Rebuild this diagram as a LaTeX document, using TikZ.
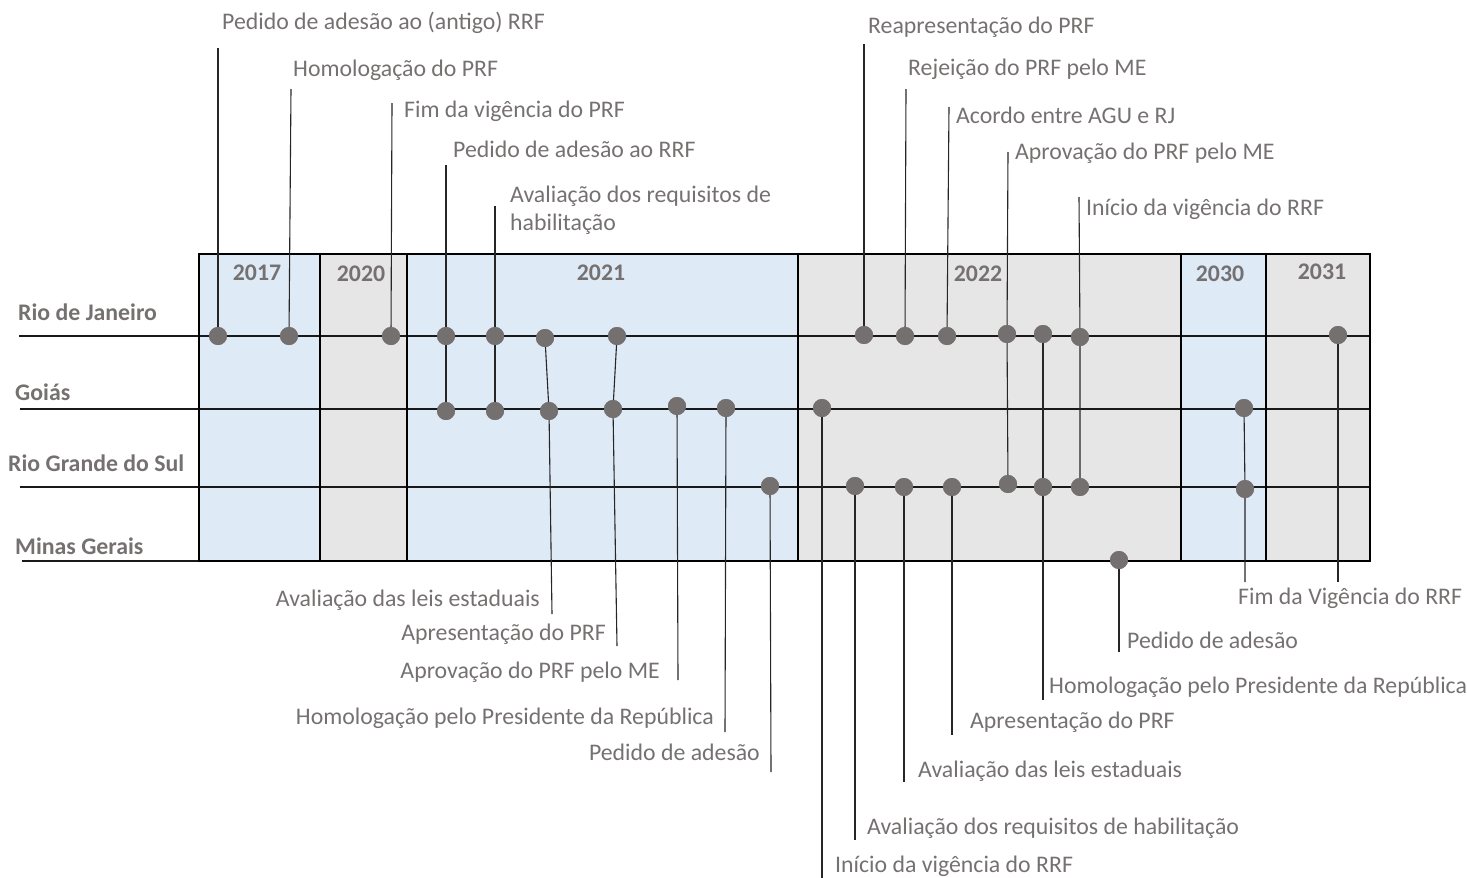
\documentclass[tikz,border=0pt]{standalone}
\usepackage{fontspec}
\setmainfont{Carlito}
\definecolor{txt}{RGB}{118,113,113}
\definecolor{dotc}{RGB}{117,112,112}
\definecolor{blu}{RGB}{222,234,246}
\definecolor{gry}{RGB}{230,230,230}
\tikzset{
  yr/.style={font=\fontsize{23.8}{24}\selectfont\bfseries, text=txt, inner sep=0},
  rowlbl/.style={font=\fontsize{23.8}{24}\selectfont\bfseries, text=txt, anchor=west, inner sep=0},
  lbl/.style={font=\fontsize{23.8}{28}\selectfont, text=txt, inner sep=0},
  lw/.style={lbl, anchor=west},
  le/.style={lbl, anchor=east},
  dot/.style={circle, fill=dotc, minimum size=18pt, inner sep=0},
  conn/.style={line width=1.1pt, draw=black!85},
  rowline/.style={line width=1.3pt, draw=black!90},
  yearbox/.style={draw=black, line width=1.8pt},
}
\begin{document}
\begin{tikzpicture}[x=1pt,y=-1pt]
\useasboundingbox (0,0) rectangle (1467,878);
% year boxes fill
\fill[blu] (199,254) rectangle (320,561);
\fill[gry] (320,254) rectangle (407,561);
\fill[blu] (407,254) rectangle (798,561);
\fill[gry] (798,254) rectangle (1181,561);
\fill[blu] (1181,254) rectangle (1266,561);
\fill[gry] (1266,254) rectangle (1370,561);
% row lines
\coordinate (la) at (19,336);  \coordinate (ra) at (1370,336);
\coordinate (lb) at (20,409);  \coordinate (rb) at (1370,409);
\coordinate (lc) at (20,487);  \coordinate (rc) at (1370,487);
\coordinate (ld) at (22,561);  \coordinate (rd) at (199,561);
\draw[rowline] (la) -- (ra);
\draw[rowline] (lb) -- (rb);
\draw[rowline] (lc) -- (rc);
\draw[rowline] (ld) -- (rd);
% box borders
\draw[yearbox] (199,254) rectangle (320,561);
\draw[yearbox] (320,254) rectangle (407,561);
\draw[yearbox] (407,254) rectangle (798,561);
\draw[yearbox] (798,254) rectangle (1181,561);
\draw[yearbox] (1181,254) rectangle (1266,561);
\draw[yearbox] (1266,254) rectangle (1370,561);
% year labels
\node[yr] (y1) at (257,273) {2017};
\node[yr] (y2) at (361,274) {2020};
\node[yr] (y3) at (601,273) {2021};
\node[yr] (y4) at (978,274) {2022};
\node[yr] (y5) at (1220,274) {2030};
\node[yr] (y6) at (1322,272) {2031};
% row labels
\node[rowlbl] (n1) at (18,312) {Rio de Janeiro};
\node[rowlbl] (n2) at (15,392) {Goiás};
\node[rowlbl] (n3) at (8,463) {Rio Grande do Sul};
\node[rowlbl] (n4) at (15,546) {Minas Gerais};
% dots
\node[dot] (r1) at (218,336) {};
\node[dot] (r2) at (289,336) {};
\node[dot] (r3) at (391,336) {};
\node[dot] (r4) at (446,336) {};
\node[dot] (r5) at (495,336) {};
\node[dot] (r6) at (545,338) {};
\node[dot] (r7) at (617,336) {};
\node[dot] (r8) at (864,335) {};
\node[dot] (r9) at (905,336) {};
\node[dot] (r10) at (947,336) {};
\node[dot] (r11) at (1007,334) {};
\node[dot] (r12) at (1043,334) {};
\node[dot] (r13) at (1080,337) {};
\node[dot] (r14) at (1338,335) {};
\node[dot] (g1) at (446,411) {};
\node[dot] (g2) at (495,411) {};
\node[dot] (g3) at (549,411) {};
\node[dot] (g4) at (613,409) {};
\node[dot] (g5) at (677,406) {};
\node[dot] (g6) at (726,408) {};
\node[dot] (g7) at (822,408) {};
\node[dot] (g8) at (1244,408) {};
\node[dot] (s1) at (770,486) {};
\node[dot] (s2) at (855,486) {};
\node[dot] (s3) at (904,487) {};
\node[dot] (s4) at (952,487) {};
\node[dot] (s5) at (1008,484) {};
\node[dot] (s6) at (1043,487) {};
\node[dot] (s7) at (1080,487) {};
\node[dot] (s8) at (1245,489) {};
\node[dot] (m1) at (1119,560) {};
% connector free ends
\coordinate (t1) at (218,48);
\coordinate (t2) at (291,89);
\coordinate (t3) at (392,103);
\coordinate (t4) at (446,165);
\coordinate (t5) at (495,206);
\coordinate (t8) at (864,44);
\coordinate (t9) at (906,89);
\coordinate (t10) at (949,107);
\coordinate (t11) at (1008,152);
\coordinate (t13) at (1079,197);
\coordinate (b1) at (552,614);
\coordinate (b2) at (617,646);
\coordinate (b3) at (678,680);
\coordinate (b4) at (725,732);
\coordinate (b5) at (771,772);
\coordinate (b6) at (822,878);
\coordinate (b7) at (855,840);
\coordinate (b8) at (904,782);
\coordinate (b9) at (952,735);
\coordinate (b10) at (1043,700);
\coordinate (b11) at (1119,652);
\coordinate (b12) at (1245,582);
\coordinate (b13) at (1338,582);
% connectors
\draw[conn] (t1) -- (r1.center);
\draw[conn] (t2) -- (r2.center);
\draw[conn] (t3) -- (r3.center);
\draw[conn] (t4) -- (r4.center) -- (g1.center);
\draw[conn] (t5) -- (r5.center) -- (g2.center);
\draw[conn] (t8) -- (r8.center);
\draw[conn] (t9) -- (r9.center);
\draw[conn] (t10) -- (r10.center);
\draw[conn] (t11) -- (r11.center) -- (s5.center);
\draw[conn] (t13) -- (r13.center) -- (s7.center);
\draw[conn] (r6.center) -- (g3.center) -- (b1);
\draw[conn] (r7.center) -- (g4.center) -- (b2);
\draw[conn] (g5.center) -- (b3);
\draw[conn] (g6.center) -- (b4);
\draw[conn] (s1.center) -- (b5);
\draw[conn] (g7.center) -- (b6);
\draw[conn] (s2.center) -- (b7);
\draw[conn] (s3.center) -- (b8);
\draw[conn] (s4.center) -- (b9);
\draw[conn] (r12.center) -- (s6.center) -- (b10);
\draw[conn] (m1.center) -- (b11);
\draw[conn] (g8.center) -- (s8.center) -- (b12);
\draw[conn] (r14.center) -- (b13);
% redraw dots on top of connectors
\foreach \d in {r1,r2,r3,r4,r5,r6,r7,r8,r9,r10,r11,r12,r13,r14,g1,g2,g3,g4,g5,g6,g7,g8,s1,s2,s3,s4,s5,s6,s7,s8,m1}
  \fill[dotc] (\d.center) circle (9);
% top labels
\node[lw] (a1) at (222,23) {Pedido de adesão ao (antigo) RRF};
\node[lw] (a2) at (293,70) {Homologação do PRF};
\node[lw] (a3) at (404,111) {Fim da vigência do PRF};
\node[lw] (a4) at (453,149) {Pedido de adesão ao RRF};
\node[lw, align=left] (a5) at (510,210) {Avaliação dos requisitos de\\habilitação};
\node[lw] (a8) at (868,27) {Reapresentação do PRF};
\node[lw] (a9) at (908,69) {Rejeição do PRF pelo ME};
\node[lw] (a10) at (956,115) {Acordo entre AGU e RJ};
\node[lw] (a11) at (1015,153) {Aprovação do PRF pelo ME};
\node[lw] (a13) at (1086,209) {Início da vigência do RRF};
% bottom labels
\node[le] (c1) at (540,600) {Avaliação das leis estaduais};
\node[le] (c2) at (606,634) {Apresentação do PRF};
\node[le] (c3) at (660,672) {Aprovação do PRF pelo ME};
\node[le] (c4) at (714,718) {Homologação pelo Presidente da República};
\node[le] (c5) at (760,752) {Pedido de adesão};
\node[lw] (c6) at (835,866) {Início da vigência do RRF};
\node[lw] (c7) at (867,828) {Avaliação dos requisitos de habilitação};
\node[lw] (c8) at (918,771) {Avaliação das leis estaduais};
\node[lw] (c9) at (970,722) {Apresentação do PRF};
\node[lw] (c10) at (1049,687) {Homologação pelo Presidente da República};
\node[lw] (c11) at (1127,640) {Pedido de adesão};
\node[lw] (c12) at (1238,598) {Fim da Vigência do RRF};
\end{tikzpicture}
\end{document}
